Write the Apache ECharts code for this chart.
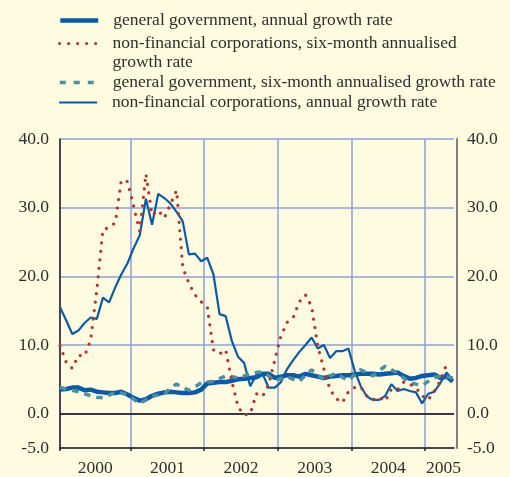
<!DOCTYPE html>
<html><head><meta charset="utf-8">
<script src="https://cdn.jsdelivr.net/npm/echarts@6/dist/echarts.min.js"></script>
<style>html,body{margin:0;padding:0;background:#fefbe0}#c{width:510px;height:477px}</style>
</head><body><div id="c"></div>
<script>
// ---- data (monthly, Jan 2000 = index 0 ... May 2005 = index 64) ----
const years = ['2000', '2001', '2002', '2003', '2004', '2005'];
const yTickLabels = [-5, 0, 10, 20, 30, 40];
const seriesNames = [
  'general government, annual growth rate',
  'non-financial corporations, six-month annualised growth rate',
  'general government, six-month annualised growth rate',
  'non-financial corporations, annual growth rate'
];
const govAnnual = [3.5,3.6,3.8,3.8,3.4,3.5,3.2,3.1,3.0,3.0,3.2,2.8,2.3,1.9,2.1,2.6,2.9,3.1,3.2,3.1,3.0,3.0,3.1,3.5,
  4.4,4.5,4.6,4.6,4.8,5.0,5.1,5.2,5.3,5.8,5.8,5.2,5.4,5.6,5.6,5.4,5.8,5.6,5.4,5.2,5.4,5.5,5.6,5.6,
  5.7,5.8,5.8,5.8,5.7,5.8,5.9,6.0,5.5,5.1,5.2,5.5,5.6,5.7,5.2,5.4,4.7];
const nfcSixMonth = [9.9,7.5,6.6,8.5,8.4,10.7,18.0,26.8,27.1,27.8,34.0,33.8,30.2,26.6,34.9,28.9,29.6,28.5,30.5,32.5,21.3,19.0,17.3,16.3,
  15.5,9.3,8.7,9.3,4.7,1.0,-0.2,0.0,2.9,2.5,4.2,7.8,11.3,13.3,14.0,16.3,17.3,15.6,9.8,6.5,3.5,2.2,1.6,3.2,
  3.8,3.9,2.6,2.0,2.4,1.8,3.6,3.5,4.6,4.3,3.8,2.6,2.0,3.3,4.8,7.2,null];
const govSixMonth = [3.8,3.6,3.4,3.2,2.9,2.6,2.4,2.3,2.7,3.1,3.0,2.8,2.1,1.5,2.0,2.6,2.7,2.8,3.8,4.3,3.8,3.4,3.9,4.5,
  4.6,4.7,5.1,5.5,5.4,5.2,5.5,5.8,6.0,6.1,5.5,4.8,5.1,5.4,5.0,4.7,5.6,6.4,5.6,5.0,5.5,5.9,5.3,4.8,
  5.7,6.4,5.9,5.5,6.3,6.9,6.4,5.9,5.2,4.5,4.3,4.1,4.7,5.3,5.4,5.4,5.2];
const nfcAnnual = [15.5,13.6,11.6,12.1,13.2,14.0,13.8,16.9,16.2,18.4,20.3,21.9,24.1,26.0,31.3,27.5,32.0,31.4,30.6,29.4,28.0,23.2,23.3,22.2,
  22.7,20.3,14.5,14.2,10.6,8.3,7.4,4.0,5.7,5.8,3.8,3.8,4.6,6.5,7.8,9.0,10.0,11.1,9.5,10.0,8.1,9.1,9.1,9.5,
  6.3,4.0,2.5,2.0,2.0,2.6,4.3,3.3,3.6,3.3,3.1,1.5,2.9,3.2,4.5,6.0,4.8];

// ---- layout constants (month-index positions on the x axis) ----
const yearBoundaryAt = [0, 11.5, 23.5, 35.5, 47.5, 59.5];
const yearLabelAt = [5.75, 17.5, 29.5, 41.5, 53.5, 62.5];

const FONT = 'Liberation Serif';
const TXT = '#2e2e2e';
const BLUE = '#0b5aa6', RED = '#b0392f', TEAL = '#4e8e9e', GRID = '#8fa0d8';

const pts = arr => arr.map((v, i) => [i, v]);
const yFmt = v => Number(v).toFixed(1);
const labelStyle = {fontFamily: FONT, fontSize: 17.5, color: TXT};

function legendAt(name, top, lineStyle, extra) {
  return Object.assign({
    data: [name], left: 58, top: top, padding: 0,
    itemWidth: 38, itemHeight: 14, selectedMode: false,
    itemStyle: {color: 'transparent', borderWidth: 0, opacity: 0},
    lineStyle: lineStyle,
    textStyle: {fontFamily: FONT, fontSize: 17.5, color: TXT, lineHeight: 19, padding: [0, 0, 0, 10]}
  }, extra || {});
}

const chart = echarts.init(document.getElementById('c'), null, {renderer: 'canvas'});
chart.setOption({
  backgroundColor: '#fefbe0',
  animation: false,
  grid: {left: 60, right: 56, top: 139, bottom: 22, containLabel: false},
  legend: [
    legendAt(seriesNames[0], 11, {color: BLUE, width: 4.5, type: 'solid'}),
    legendAt(seriesNames[1], 15, {color: RED, width: 3.2, type: [0.01, 9], cap: 'round'}, {
      formatter: () => '\nnon-financial corporations, six-month annualised\ngrowth rate'
    }),
    legendAt(seriesNames[2], 73, {color: TEAL, width: 3.5, type: [6, 8]}),
    legendAt(seriesNames[3], 93, {color: BLUE, width: 2.2, type: 'solid'})
  ],
  xAxis: {
    type: 'value', min: 0, max: 64.2,
    axisLine: {show: true, onZero: false, lineStyle: {color: '#222', width: 1.5}},
    axisTick: {show: true, customValues: yearBoundaryAt, length: 3, lineStyle: {color: '#222', width: 1.5}},
    splitLine: {show: true, lineStyle: {color: GRID, width: 1.5}},
    axisLabel: Object.assign({customValues: yearLabelAt, margin: 11,
      formatter: v => { const k = yearLabelAt.indexOf(v); return k >= 0 ? years[k] : ''; }}, labelStyle)
  },
  yAxis: [{
    type: 'value', min: -5, max: 40, position: 'left',
    axisLine: {show: true, lineStyle: {color: '#222', width: 1.5}},
    axisTick: {show: false, customValues: yTickLabels},
    splitLine: {show: true, lineStyle: {color: GRID, width: 1.5}},
    axisLabel: Object.assign({customValues: yTickLabels, formatter: yFmt, margin: 11}, labelStyle)
  }, {
    type: 'value', min: -5, max: 40, position: 'right', offset: 3,
    axisLine: {show: true, lineStyle: {color: '#808080', width: 2}},
    axisTick: {show: false, customValues: yTickLabels},
    splitLine: {show: false},
    axisLabel: Object.assign({customValues: yTickLabels, formatter: yFmt, margin: 10}, labelStyle)
  }],
  series: [{
    name: seriesNames[0], type: 'line', data: pts(govAnnual), symbol: 'none', z: 3,
    lineStyle: {color: BLUE, width: 4.5}, itemStyle: {color: BLUE},
    markLine: {silent: true, symbol: 'none', label: {show: false}, z: 1,
      lineStyle: {color: '#111', width: 1.5, type: 'solid'}, data: [{yAxis: 0}]}
  }, {
    name: seriesNames[3], type: 'line', data: pts(nfcAnnual), symbol: 'none', z: 4,
    lineStyle: {color: BLUE, width: 2.2}, itemStyle: {color: BLUE}
  }, {
    name: seriesNames[2], type: 'line', data: pts(govSixMonth), symbol: 'none', z: 5,
    lineStyle: {color: TEAL, width: 3.5, type: [6.5, 6]}, itemStyle: {color: TEAL}
  }, {
    name: seriesNames[1], type: 'line', data: pts(nfcSixMonth), symbol: 'none', z: 6,
    lineStyle: {color: RED, width: 3.2, type: [0.01, 8.5], cap: 'round'}, itemStyle: {color: RED}
  }]
});
</script></body></html>
